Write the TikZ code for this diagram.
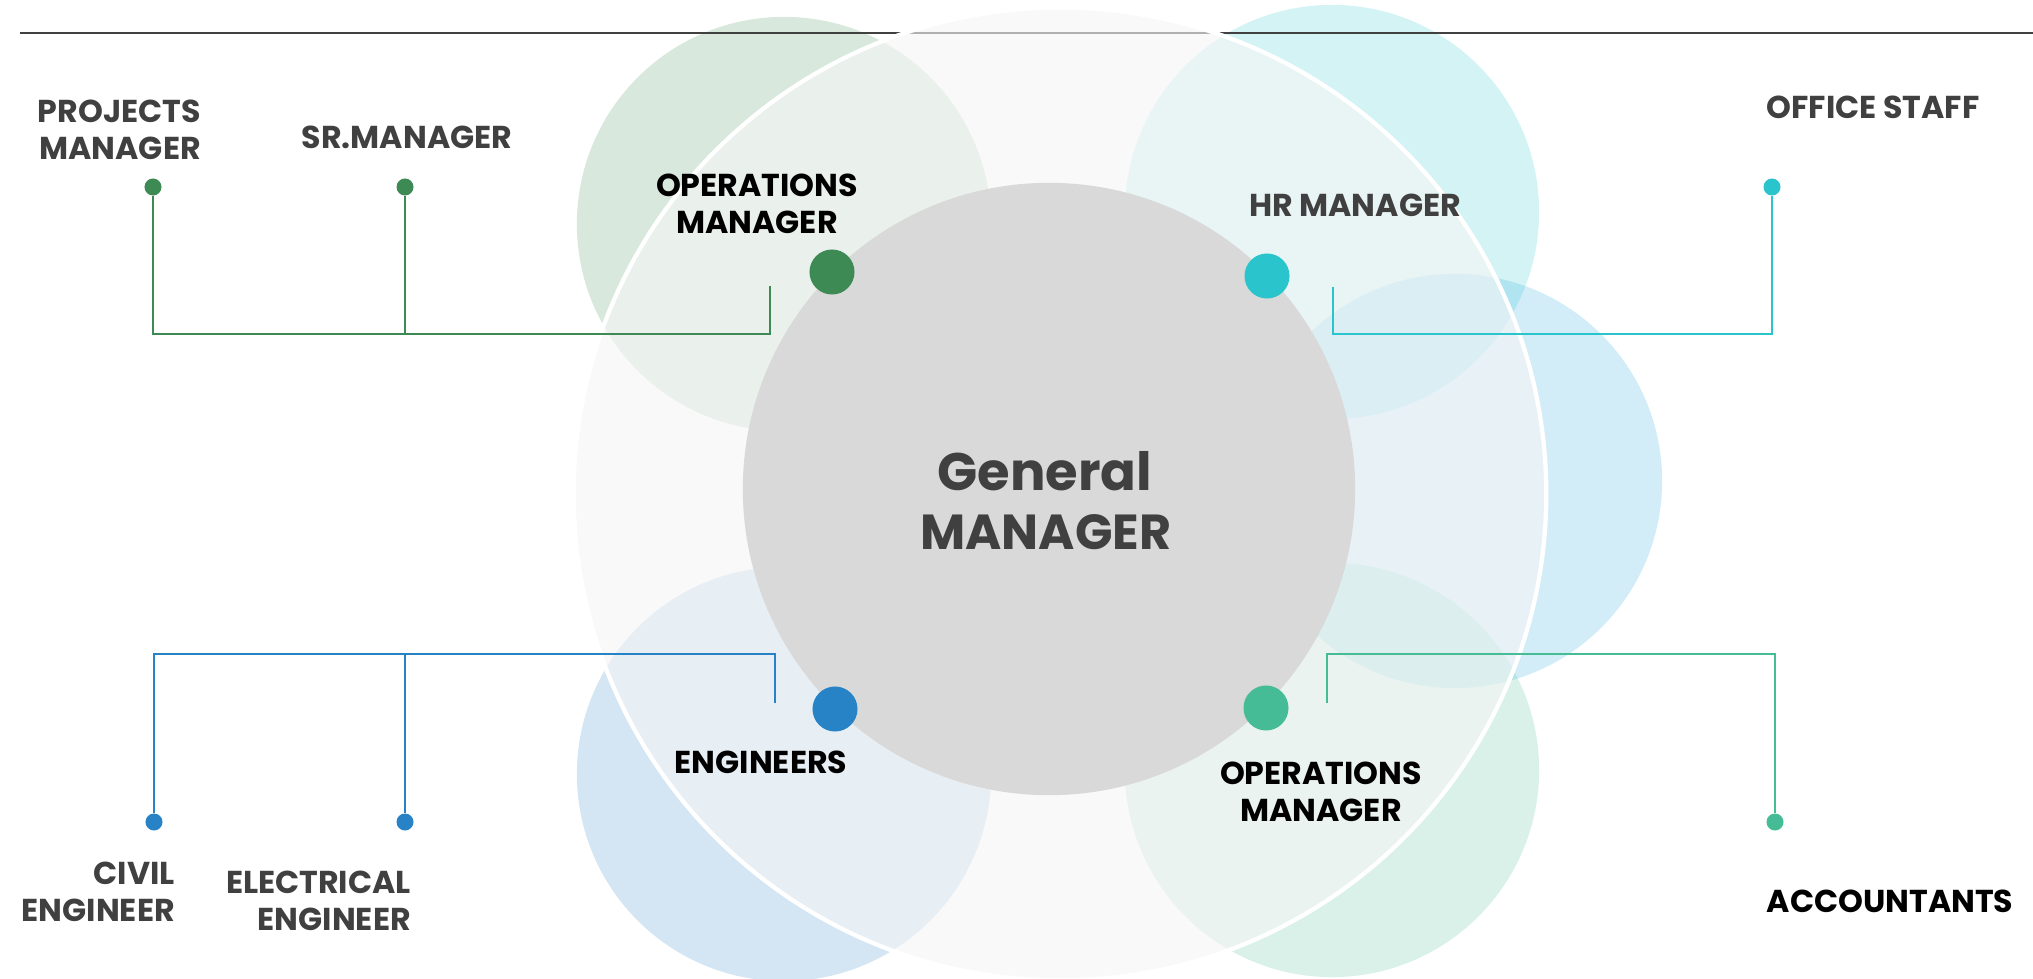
\documentclass[tikz,border=0pt]{standalone}
\usepackage{fontspec}
\setmainfont{Poppins}
\usepackage{tikz}
\usetikzlibrary{calc}
\usetikzlibrary{positioning}
\definecolor{opgreen}{HTML}{3D8A55}
\definecolor{hrcyan}{HTML}{29C4CC}
\definecolor{engblue}{HTML}{2783C6}
\definecolor{skyblue}{HTML}{22A7DE}
\definecolor{accteal}{HTML}{45BB96}
\definecolor{txtgray}{HTML}{404040}
\definecolor{ringgray}{HTML}{F5F5F5}
\definecolor{coregray}{HTML}{D9D9D9}
\tikzstyle{bubble} = [fill opacity = 0.2]
\tikzstyle{bigdot} = [circle, inner sep = 0, minimum size = 0.45cm]
\tikzstyle{smalldot} = [circle, inner sep = 0, minimum size = 0.17cm]
\tikzstyle{role} = [inner sep = 1, font = \fontsize{9}{10.5}\selectfont\bfseries, text = txtgray, align = center]
\tikzstyle{head} = [role, text = black]
\tikzstyle{link} = [line width = 0.8pt]

\begin{document}
\begin{tikzpicture}[x = 0.01cm, y = 0.01cm]
\useasboundingbox (0, 0) rectangle (2033, -979);
\clip (0, 0) rectangle (2033, -979);
% bubbles behind the ring
\fill [bubble, opgreen] (784, -224) circle (2.07cm);
\fill [bubble, hrcyan] (1332, -212) circle (2.07cm);
\fill [bubble, skyblue] (1455, -481) circle (2.07cm);
\fill [bubble, engblue] (784, -774) circle (2.07cm);
\fill [bubble, accteal] (1332, -770) circle (2.07cm);
\draw [line width = 0.7pt, txtgray] (20, -33) -- (2033, -33);
\filldraw [fill = ringgray, fill opacity = 0.62, draw = white, line width = 1.2pt] (1060, -494) circle (4.86cm);
\node [circle, fill = coregray, inner sep = 0, minimum size = 6.12cm] (GM) at (1049, -489) {};
\node [font = \fontsize{15}{16}\selectfont\bfseries, text = txtgray] (GMa) at (1045, -471) {General};
\node [font = \fontsize{14}{16}\selectfont\bfseries, text = txtgray] (GMb) at (1046, -532) {MANAGER};

\node [bigdot, fill = opgreen] (OM1) at (832, -272) {};
\node [bigdot, fill = hrcyan] (HR) at (1267, -276) {};
\node [bigdot, fill = engblue] (EN) at (835, -709) {};
\node [bigdot, fill = accteal] (OM2) at (1266, -708) {};
\node [smalldot, fill = opgreen] (PMd) at (153, -187) {};
\node [smalldot, fill = opgreen] (SRd) at (405, -187) {};
\node [smalldot, fill = hrcyan] (OSd) at (1772, -187) {};
\node [smalldot, fill = engblue] (CEd) at (154, -822) {};
\node [smalldot, fill = engblue] (EEd) at (405, -822) {};
\node [smalldot, fill = accteal] (ACd) at (1775, -822) {};

\coordinate (OM1s) at (770, -286);
\coordinate (OM1b) at (770, -334);
\coordinate (HRs) at (1333, -287);
\coordinate (HRb) at (1333, -334);
\coordinate (ENs) at (775, -703);
\coordinate (ENb) at (775, -654);
\coordinate (OM2s) at (1327, -703);
\coordinate (OM2b) at (1327, -654);
\draw [link, opgreen] (PMd) |- (OM1b) -- (OM1s);
\draw [link, opgreen] (SRd) -- (SRd |- OM1b);
\draw [link, hrcyan] (OSd) |- (HRb) -- (HRs);
\draw [link, engblue] (CEd) |- (ENb) -- (ENs);
\draw [link, engblue] (EEd) -- (EEd |- ENb);
\draw [link, accteal] (ACd) |- (OM2b) -- (OM2s);

\node [role, align = right, anchor = east] (PM) at (205, -130) {PROJECTS\\MANAGER};
\node [role] (SR) at (407, -137) {SR.MANAGER};
\node [head] (OM1t) at (757, -204) {OPERATIONS\\MANAGER};
\node [role] (HRt) at (1355, -205) {HR MANAGER};
\node [role] (OS) at (1873, -107) {OFFICE STAFF};
\node [head] (ENt) at (761, -762) {ENGINEERS};
\node [role, align = right, anchor = east] (CE) at (179, -892) {CIVIL\\ENGINEER};
\node [role, align = right, anchor = east] (EE) at (415, -901) {ELECTRICAL\\ENGINEER};
\node [head] (OM2t) at (1321, -792) {OPERATIONS\\MANAGER};
\node [head] (AC) at (1890, -901) {ACCOUNTANTS};
\end{tikzpicture}
\end{document}
